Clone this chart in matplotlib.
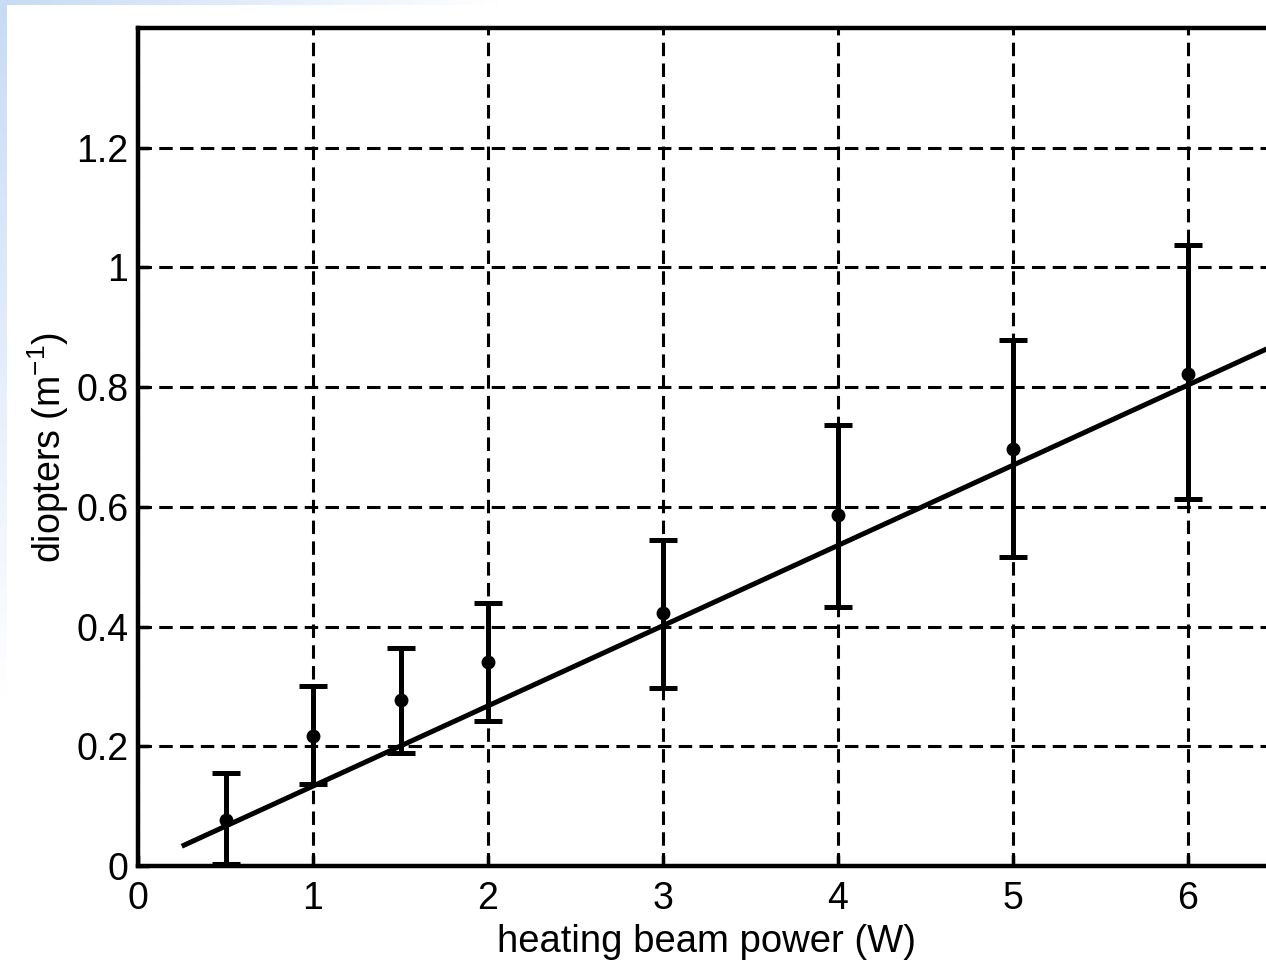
import numpy as np
import matplotlib
matplotlib.use("Agg")
import matplotlib.pyplot as plt

# ---- data ----
power = [0.5, 1.0, 1.5, 2.0, 3.0, 4.0, 5.0, 6.0]
diopters = [0.077, 0.218, 0.277, 0.340, 0.422, 0.587, 0.697, 0.822]
err_low = [0.074, 0.081, 0.089, 0.098, 0.124, 0.154, 0.180, 0.209]
err_high = [0.078, 0.082, 0.088, 0.100, 0.123, 0.150, 0.181, 0.215]
fit_x = [0.25, 6.6]
fit_y = [0.033, 0.884]
xticks = [0, 1, 2, 3, 4, 5, 6]
yticks = [0, 0.2, 0.4, 0.6, 0.8, 1.0, 1.2]
ytick_labels = ["0", "0.2", "0.4", "0.6", "0.8", "1", "1.2"]

plt.rcParams['font.family'] = ['Liberation Sans', 'DejaVu Sans']

W, H = 1266, 960
fig = plt.figure(figsize=(W / 100, H / 100), dpi=100)
fig.patch.set_facecolor('white')

# slide-like light blue gradient strips at top and left edges
bg = fig.add_axes([0, 0, 1, 1], zorder=-10)
bg.set_axis_off()
img = np.zeros((H, W, 4))
img[..., :3] = np.array([0.78, 0.86, 0.96])
yy = np.arange(H)[:, None]
xx = np.arange(W)[None, :]
left_alpha = np.clip(1 - yy / 700.0, 0, 1) * (xx < 7)
top_alpha = np.clip(1 - xx / 500.0, 0, 1) * (yy < 5)
img[..., 3] = np.maximum(left_alpha, top_alpha)
bg.imshow(img, extent=[0, W, H, 0], aspect='auto', interpolation='nearest')
bg.set_xlim(0, W)
bg.set_ylim(H, 0)

# main axes (right edge just beyond the figure edge, as in the cropped original)
x_max = 6.5
x0_px, x1_px = 138, 138 + 175 * x_max
ax = fig.add_axes([x0_px / W, (H - 866) / H, (x1_px - x0_px) / W, (866 - 28) / H])
ax.set_xlim(0, x_max)
ax.set_ylim(0, 1.4)

ax.grid(True, color='black', linestyle=(0, (4.4, 2.4)), linewidth=2.2)
ax.set_axisbelow(True)

ax.plot(fit_x, fit_y, color='black', linewidth=3.6, solid_capstyle='butt', zorder=3)
ax.errorbar(power, diopters, yerr=[err_low, err_high], fmt='o', color='black',
            markersize=9, elinewidth=3.6, capsize=10, capthick=3.6, zorder=4)

ax.set_xticks(xticks)
ax.set_xticklabels([str(t) for t in xticks])
ax.set_yticks(yticks)
ax.set_yticklabels(ytick_labels)
ax.tick_params(direction='in', length=8, width=2.5, labelsize=27, color='black')
ax.tick_params(axis='y', pad=7)
ax.tick_params(axis='x', pad=11)
for s in ax.spines.values():
    s.set_linewidth(3.2)
    s.set_color('black')

ax.set_xlabel('heating beam power (W)', fontsize=27.5, labelpad=5)
ax.set_ylabel('diopters (m$^{\\mathregular{-1}}$)', fontsize=27, labelpad=4)

fig.savefig('out.png', dpi=100)
